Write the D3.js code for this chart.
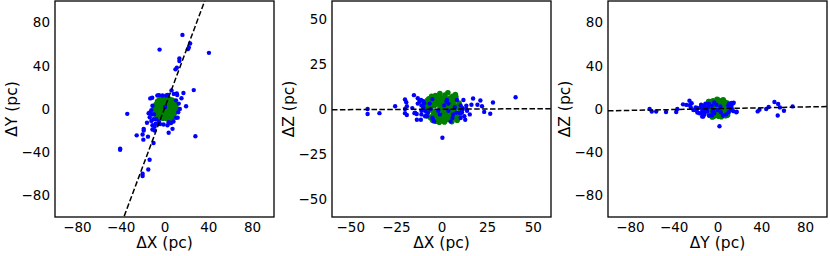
<!DOCTYPE html>
<html>
<head>
<meta charset="utf-8">
<script src="https://cdn.jsdelivr.net/npm/d3@7"></script>
<style>
  body { margin: 0; background: #fff; }
  svg { display: block; }
</style>
</head>
<body>
<svg id="chart" width="830" height="256"></svg>
<script>
// outlying stars (blue), positions relative to cluster centre, pc
var blueX = [16.4, 23.4, 22.2, 21.3, -4.5, 40.6, 13.6, 13.6, 11.3, 10.0, 26.7, 28.2, 17.3, 19.7, 15.5, 14.0,
  -40.5, -40.5, -34.0, -25.4, -20.0, -19.3, -15.1, -20.0, -20.0, -14.8, -13.6, -19.0, -19.0, -13.0, -11.2,
  -14.5, -13.5, -16.0, -11.3, -11.0, -11.0, -10.0, -9.0,
  -6.5, -5.0, -1.8, 1.5, 6.4, 8.5, 11.2, 11.6, -8.0, -10.0, -9.5, -7.5, -5.0, -6.0, -0.9, 2.7, 6.0, 10.5,
  12.5, 3.8, 7.3, 8.2, 3.8, 0.5, -12.0, -11.0, -12.0, -9.0, -13.0, 13.0, 12.0, 10.5, 3.0, -4.0, 5.0];
var blueY = [68.6, 60.7, 57.0, 55.4, 55.0, 52.0, 46.7, 44.5, 38.3, 36.7, 17.5, -25.3, 14.8, 2.6, 10.0, 0.0,
  -36.7, -37.7, -4.5, -24.4, -23.6, -28.4, -25.6, -60.0, -62.0, -56.0, -47.0, -18.4, -20.0, 9.8, 10.4,
  -4.0, -7.6, -12.7, -5.0, -15.0, -19.0, -31.5, -16.5,
  12.5, 12.8, 12.5, 12.5, 17.2, 14.0, 14.5, 13.0, -13.5, -9.5, -5.0, -9.5, -12.0, -14.0, -14.4, -15.0, -12.9, -8.2,
  -3.0, -22.0, -18.4, -11.6, -12.3, 1.8, -1.0, 3.0, -11.0, -20.0, -3.0, 5.0, -8.0, 8.0, 13.0, -14.0, -13.0];
var blueZ = [2.4, -1.6, 1.5, 4.7, -6.0, 6.5, 1.9, 0.0, -0.6, -2.2, -2.6, 3.6, 5.8, 2.4, -3.0, -1.0,
  0.0, -2.8, -2.3, 1.5, 5.3, 3.8, 7.7, -2.3, 0.0, -2.3, -2.8, -3.3, 1.5, 3.0, 5.0,
  -2.0, -6.0, 0.5, -6.0, 2.0, -1.0, 4.3, -4.0,
  3.0, 5.5, -1.0, 2.0, -3.0, 5.0, -2.0, 0.5, -4.0, 1.0, 3.0, -2.0, -5.0, 0.0, -3.0, 4.0, -5.0, 2.0,
  -4.0, -1.0, 1.0, -2.0, 3.0, -16.0, 4.0, -3.0, 5.0, -1.0, 6.0, -6.0, 5.0, -5.0, 5.0, -7.0, -7.0];

// cluster members (green)
var greenX = [-9.2, -8.5, -7.8, -7.1, -6.4, -5.9, -5.2, -4.6, -4.0, -3.3, -2.8, -2.1, -1.5, -0.9, -0.3,
  0.4, 1.0, 1.6, 2.3, 2.9, 3.5, 4.2, 4.8, 5.5, 6.1, 6.8, 7.4, 8.1, 8.8, 9.6, 10.4,
  -8.0, -6.9, -5.6, -4.3, -3.1, -1.8, -0.6, 0.7, 1.9, 3.2, 4.4, 5.7, 6.9, 8.2, 9.3,
  -7.3, -5.0, -2.5, 0.1, 2.6, 5.1, 7.6, 9.9, -6.1, -3.7, -1.2, 1.3, 3.8, 6.3, 8.6,
  -4.8, -2.2, 0.3, 2.8, 5.3, 7.9, -3.5, -0.8, 1.7, 4.6, 7.0, -5.4, -1.9, 2.1, 5.9,
  -2.9, 0.9, 3.6, 6.6, -7.7, -4.1, 1.1, 4.0, 8.4, -0.4, 2.4, -6.6, 10.8, 5.0];
var greenY = [0.5, -3.0, 4.2, -5.5, 6.8, -1.2, 2.4, -7.6, 8.5, -4.1, 0.9, 9.6, -8.8, 5.2, -2.5,
  10.2, -6.3, 3.5, -9.0, 7.4, -0.4, 9.2, -5.0, 1.6, -8.0, 6.1, -2.7, 3.0, -4.5, 0.2, 2.0,
  2.6, -2.2, 7.5, -6.0, 3.8, -0.9, 7.9, -3.6, 1.1, -7.2, 4.6, -3.8, 8.3, -6.6, 5.4,
  -4.3, 0.0, -6.9, 2.7, -2.1, 6.9, 0.8, -2.4, 4.9, 6.2, -4.8, 8.8, 2.3, -5.9, 7.2,
  -3.4, 4.4, -8.1, 5.6, -1.3, 4.1, 1.7, -1.7, -4.4, 0.6, -8.4, 5.8, 3.1, -0.2, 3.6,
  -7.8, 6.4, -3.2, 1.9, 1.4, -2.6, 0.4, 7.9, -1.1, 4.0, -5.6, -7.0, -0.8, -9.3];
var greenZ = [1.0, 3.5, -2.0, 0.5, 4.0, -5.0, 6.5, -1.5, 1.8, 7.5, -6.8, -3.0, 3.0, 8.6, -4.2,
  0.0, 6.0, -7.2, -2.5, 4.8, 9.0, -5.6, 2.2, -3.4, 7.0, -0.8, 5.2, -4.6, 0.7, 3.3, -1.2,
  -3.8, 5.6, -4.4, 4.6, 2.6, 5.9, -6.0, 1.4, 7.8, -5.8, 0.9, -7.0, 2.0, -2.8, 1.6,
  -1.0, 2.8, -3.6, 3.9, -1.0, 6.2, 8.0, -3.0, 0.2, -1.7, -7.4, 5.4, -2.6, 3.7, -6.2,
  -6.4, 4.2, -0.3, -4.0, 4.4, 6.6, -2.2, 0.9, 3.1, -5.1, 1.2, 7.1, -4.8, 2.4, -0.1,
  6.8, -2.1, 5.6, -3.8, 4.9, -4.0, -5.3, 2.9, -5.4, 6.3, 0.3, 2.1, 0.4, -1.6];

// dashed fit lines: slope, intercept for each panel
var fitSlope = [2.71, 0.005, 0.02];
var fitIntercept = [0.54, -0.1, 0.3];

var ticksWide = [-80, -40, 0, 40, 80];
var ticksNarrow = [-50, -25, 0, 25, 50];

var cols = { X: greenX, Y: greenY, Z: greenZ };
var bcols = { X: blueX, Y: blueY, Z: blueZ };

var plotTop = 1, plotBottom = 217;

var panels = [
  { left: 55, right: 274, h: "X", v: "Y", lim: 100, ticks: ticksWide },
  { left: 332, right: 551, h: "X", v: "Z", lim: 60, ticks: ticksNarrow },
  { left: 608, right: 827, h: "Y", v: "Z", lim: 100, ticks: ticksWide }
];

var svg = d3.select("#chart");

panels.forEach(function(p, k) {
  var x = d3.scaleLinear().domain([-p.lim, p.lim]).range([p.left, p.right]);
  var y = d3.scaleLinear().domain([-p.lim, p.lim]).range([plotBottom, plotTop]);

  svg.append("clipPath").attr("id", "clip" + k)
     .append("rect")
     .attr("x", p.left).attr("y", plotTop)
     .attr("width", p.right - p.left).attr("height", plotBottom - plotTop);

  var plot = svg.append("g").attr("clip-path", "url(#clip" + k + ")");

  plot.append("g").selectAll("circle")
      .data(greenX.map(function(d, i) { return i; }))
      .enter().append("circle")
      .attr("cx", function(i) { return x(cols[p.h][i]); })
      .attr("cy", function(i) { return y(cols[p.v][i]); })
      .attr("r", 2.8)
      .style("fill", "#008000");

  plot.append("g").selectAll("circle")
      .data(blueX.map(function(d, i) { return i; }))
      .enter().append("circle")
      .attr("cx", function(i) { return x(bcols[p.h][i]); })
      .attr("cy", function(i) { return y(bcols[p.v][i]); })
      .attr("r", 2.2)
      .style("fill", "#0000ff");

  var line = d3.line()
      .x(function(d) { return x(d); })
      .y(function(d) { return y(fitSlope[k] * d + fitIntercept[k]); });

  plot.append("path")
      .datum([-p.lim, p.lim])
      .attr("d", line)
      .style("fill", "none")
      .style("stroke", "#000")
      .style("stroke-width", 1.5)
      .style("stroke-dasharray", "5.5,2.4");

  svg.append("g")
     .attr("transform", "translate(0," + plotBottom + ")")
     .call(d3.axisBottom(x).tickValues(p.ticks).tickSize(0).tickPadding(5))
     .call(function(g) { g.select(".domain").remove(); })
     .attr("font-size", 13.5)
     .attr("font-family", "DejaVu Sans");

  svg.append("g")
     .attr("transform", "translate(" + p.left + ",0)")
     .call(d3.axisLeft(y).tickValues(p.ticks).tickSize(0).tickPadding(5))
     .call(function(g) { g.select(".domain").remove(); })
     .attr("font-size", 13.5)
     .attr("font-family", "DejaVu Sans");

  svg.append("rect")
     .attr("x", p.left).attr("y", plotTop)
     .attr("width", p.right - p.left).attr("height", plotBottom - plotTop)
     .style("fill", "none")
     .style("stroke", "#000")
     .style("stroke-width", 1.3);

  svg.append("text")
     .attr("x", (p.left + p.right) / 2)
     .attr("y", 248)
     .attr("text-anchor", "middle")
     .style("font-family", "DejaVu Sans")
     .style("font-size", "15.5px")
     .text("\u0394" + p.h + " (pc)");

  svg.append("text")
     .attr("transform", "translate(" + (p.left - 38) + "," + ((plotTop + plotBottom) / 2) + ") rotate(-90)")
     .attr("text-anchor", "middle")
     .style("font-family", "DejaVu Sans")
     .style("font-size", "15.5px")
     .text("\u0394" + p.v + " (pc)");
});
</script>
</body>
</html>
